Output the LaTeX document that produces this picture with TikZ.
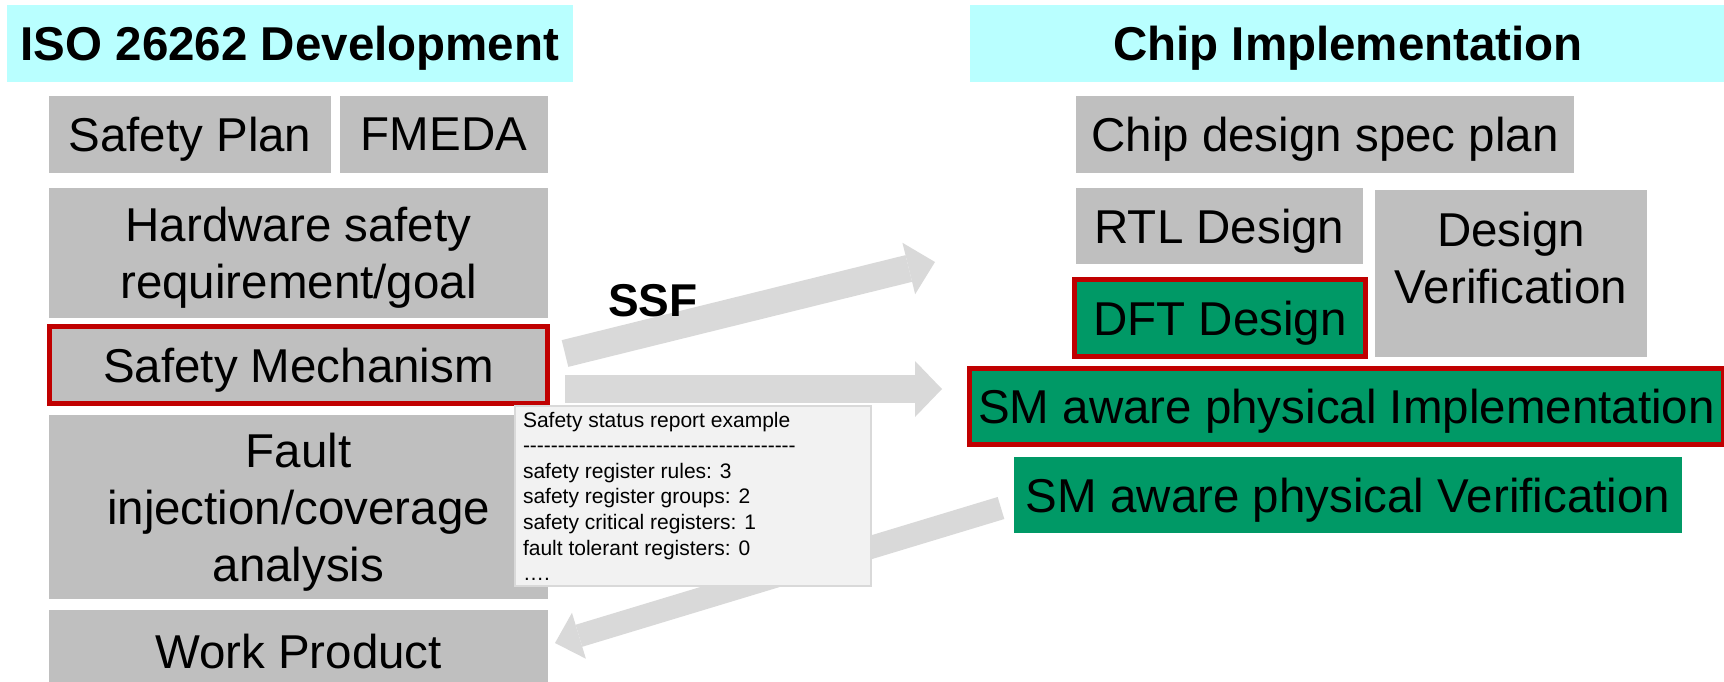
\documentclass[tikz,border=0pt]{standalone}
\usepackage{fontspec}
\setmainfont{Liberation Sans}
\usetikzlibrary{arrows.meta}

\definecolor{titlecyan}{RGB}{185,255,255}
\definecolor{boxgray}{RGB}{191,191,191}
\definecolor{smred}{RGB}{192,0,0}
\definecolor{smgreen}{RGB}{0,153,102}
\definecolor{arrowgray}{RGB}{217,217,217}
\definecolor{notefill}{RGB}{242,242,242}
\definecolor{noteline}{RGB}{217,217,217}

\begin{document}
\begin{tikzpicture}[x=1pt,y=-1pt,
  every node/.style={inner sep=0pt, outer sep=0pt, text depth=0pt},
  bigtext/.style={font=\fontsize{47.5}{57}\selectfont, align=center},
  headbox/.style={fill=titlecyan, font=\fontsize{47.5}{57}\selectfont\bfseries},
  graybox/.style={fill=boxgray, bigtext},
  greenbox/.style={fill=smgreen, bigtext},
  marked/.style={draw=smred, line width=5pt},
  notebox/.style={fill=notefill, draw=noteline, line width=2pt},
  notetext/.style={font=\fontsize{21}{25.6}\selectfont, align=left},
  blockarrow/.style n args={3}{draw=arrowgray, line width=#1,
    -{Triangle[width=#2, length=#3, line width=0pt]}},
]
\useasboundingbox (0,0) rectangle (1724,681);
\clip (0,0) rectangle (1724,681);

% ---- ISO 26262 side ----
\node[headbox, minimum width=566, minimum height=77] (isohead) at (290,43.5) {ISO 26262 Development};
\node[graybox, minimum width=282, minimum height=77] (splan) at (190,134.5) {Safety Plan};
\node[graybox, minimum width=208, minimum height=77] (fmeda) at (444,134.5) {FMEDA};
\node[graybox, minimum width=499, minimum height=130] (hwreq) at (298.5,253) {Hardware safety\\requirement/goal};
\node[graybox, marked, minimum width=498, minimum height=77] (smech) at (298.5,365) {Safety Mechanism};
\node[graybox, minimum width=499, minimum height=184] (fault) at (298.5,507) {Fault\\injection/coverage\\analysis};
\node[graybox, minimum width=499, minimum height=82] (wprod) at (298.5,651) {Work Product};

% ---- chip implementation side ----
\node[headbox, minimum width=756, minimum height=77] (chiphead) at (1348,43.5) {Chip Implementation};
\node[graybox, minimum width=498, minimum height=77] (spec) at (1325,134.5) {Chip design spec plan};
\node[graybox, minimum width=287, minimum height=76] (rtl) at (1219.5,226) {RTL Design};
\node[greenbox, marked, minimum width=291, minimum height=77] (dft) at (1220,318) {DFT Design};
\node[graybox, minimum width=272, minimum height=167] (dv) at (1511,273.5) {};
\node[bigtext] (dvtext) at ([yshift=16pt]dv.center) {Design\\Verification};
\node[greenbox, marked, minimum width=754, minimum height=76] (smimpl) at (1346.5,406.5) {SM aware physical Implementation};
\node[greenbox, minimum width=668, minimum height=76] (smver) at (1348,495) {SM aware physical Verification};

% ---- flow arrows ----
\coordinate (ssftail) at (565,353.5);
\coordinate (ssftip) at (935,262);
\coordinate (smtail) at (565,389);
\coordinate (smtip) at (942,389);
\coordinate (backtail) at (1001,508);
\coordinate (backtip) at (555,643);
\draw[blockarrow={27.5pt}{53pt}{27pt}] (ssftail) -- (ssftip);
\draw[blockarrow={28pt}{56pt}{27pt}] (smtail) -- (smtip);
\draw[blockarrow={23pt}{48pt}{25pt}] (backtail) -- (backtip);

% ---- status report ----
\node[notebox, minimum width=356, minimum height=180] (report) at (693,496) {};
\node[notetext, anchor=north west] (reporttext) at (523,411.8) {Safety status report example\\
  \foreach \i in {1,...,39}{-}\\
  safety register rules: 3\\
  safety register groups: 2\\
  safety critical registers: 1\\
  fault tolerant registers: 0\\
  ….};

\node[font=\fontsize{46}{55}\selectfont\bfseries, anchor=base west] (ssf) at (608,316) {SSF};
\end{tikzpicture}
\end{document}
